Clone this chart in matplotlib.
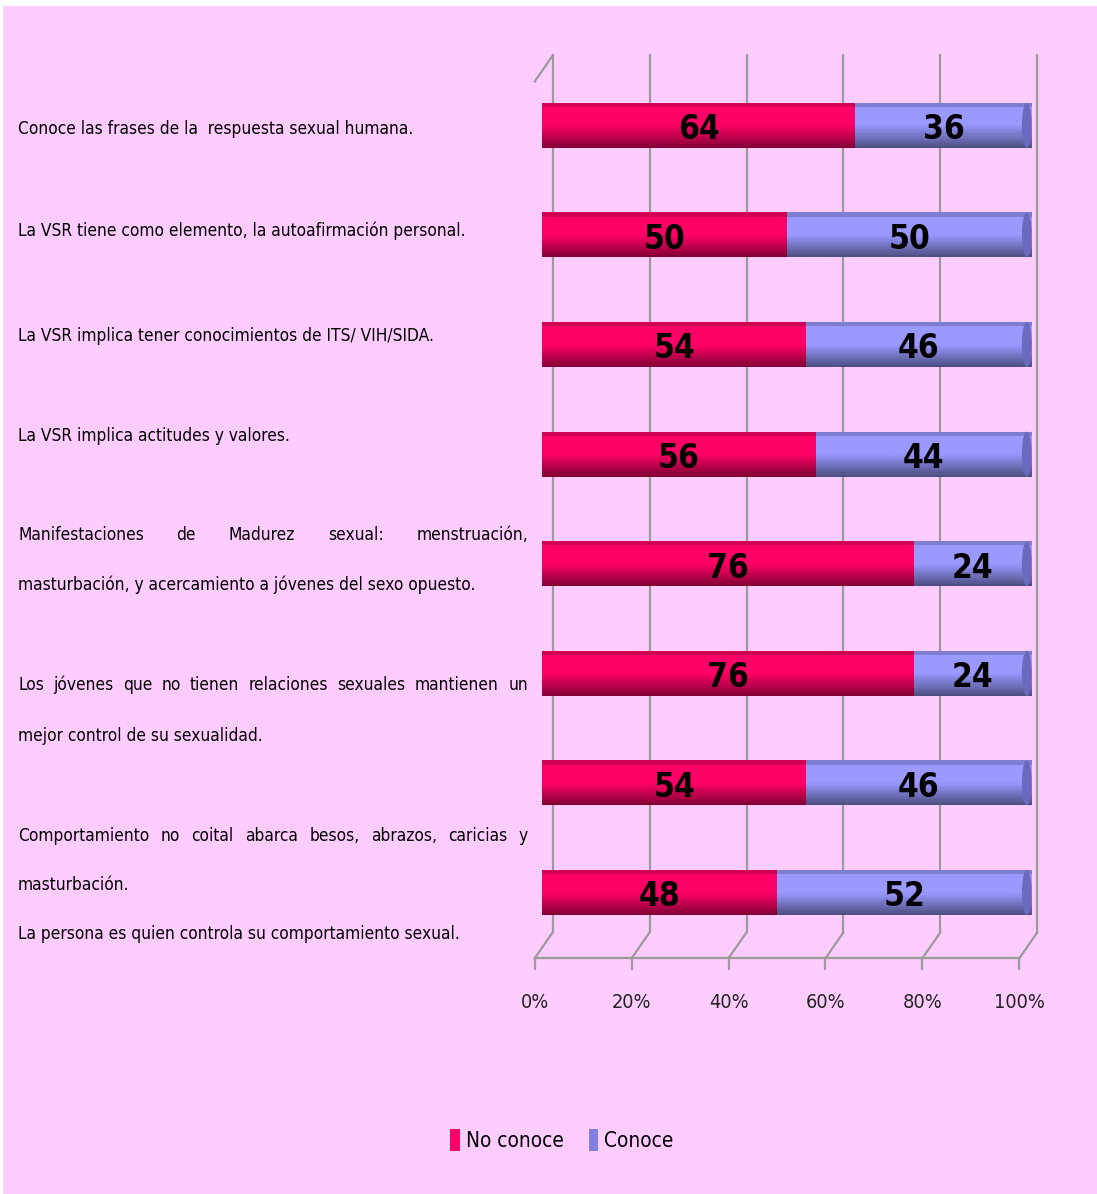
import numpy as np
import matplotlib
matplotlib.use("Agg")
import matplotlib.pyplot as plt
from matplotlib.patches import Rectangle, Ellipse, Patch
from matplotlib.transforms import Affine2D, ScaledTranslation

plt.rcParams['font.family'] = ['DejaVu Sans']
plt.rcParams['font.stretch'] = 'condensed'

# data (one row per bar, top to bottom)
no_conoce = [64, 50, 54, 56, 76, 76, 54, 48]
conoce = [36, 50, 46, 44, 24, 24, 46, 52]
ticks = [0, 20, 40, 60, 80, 100]
tick_labels = ['0%', '20%', '40%', '60%', '80%', '100%']
series_names = ['No conoce', 'Conoce']

# left hand text, as it is laid out in the original (line, y px, justified)
label_lines = [
    ("Conoce las frases de la  respuesta sexual humana.", 127, False),
    ("La VSR tiene como elemento, la autoafirmación personal.", 229, False),
    ("La VSR implica tener conocimientos de ITS/ VIH/SIDA.", 334, False),
    ("La VSR implica actitudes y valores.", 434, False),
    ("Manifestaciones de Madurez sexual: menstruación,", 533, True),
    ("masturbación, y acercamiento a jóvenes del sexo opuesto.", 583, False),
    ("Los jóvenes que no tienen relaciones sexuales mantienen un", 683, True),
    ("mejor control de su sexualidad.", 734, False),
    ("Comportamiento no coital abarca besos, abrazos, caricias y", 834, True),
    ("masturbación.", 883, False),
    ("La persona es quien controla su comportamiento sexual.", 932, False),
]

PINK = '#FF0066'
BLUE = '#9999FF'
BG = '#FFCCFF'
GRID = '#9A9A9A'

W, H = 1097, 1194
fig = plt.figure(figsize=(W / 100, H / 100), dpi=100, facecolor='white')
fig.patches.append(Rectangle((3 / W, 0), 1, 1 - 6 / H, transform=fig.transFigure,
                             facecolor=BG, edgecolor='none', zorder=-10))
renderer = fig.canvas.get_renderer()

# pick a text size so the longest plain line is as wide as in the original
probe = fig.text(0, 0, label_lines[5][0], fontsize=16)
fs = 16 * 460 / probe.get_window_extent(renderer).width
probe.remove()

# bar plane: 0..100 -> 541.7..1031.7 px, rows centred at 125 + 109.6*i
ax = fig.add_axes([541.7 / W, 1 - 947.3 / H, 490 / W, (947.3 - 70.5) / H])
ax.set_xlim(0, 100)
ax.set_ylim(7.5, -0.5)
ax.axis('off')
ax.patch.set_alpha(0)

back = Affine2D().scale(0.989, 1).translate(2.245, 0) + ax.transData + \
    ScaledTranslation(0, 0.15, fig.dpi_scale_trans)
front = Affine2D().scale(0.989, 1).translate(-1.43, 0) + ax.transData + \
    ScaledTranslation(0, -0.11, fig.dpi_scale_trans)

# back wall verticals, floor slants, front line and ticks
for v, lab in zip(ticks, tick_labels):
    ax.plot([v, v], [-0.5, 7.5], color=GRID, lw=1.6, transform=back, clip_on=False, zorder=1)
    p0 = back.transform((v, 7.5))
    p1 = front.transform((v, 7.5))
    ax.plot([p0[0], p1[0]], [p0[1], p1[1]], color=GRID, lw=1.6,
            transform=None, clip_on=False, zorder=1)
    ax.plot([v, v], [7.5, 7.6], color=GRID, lw=1.6, transform=front, clip_on=False, zorder=1)
    fig.text(p1[0] / W, 1 - 1003 / H, lab, ha='center', va='center',
             fontsize=fs * 1.15, color='#222222')
ax.plot([0, 100], [7.5, 7.5], color=GRID, lw=1.6, transform=front, clip_on=False, zorder=1)
# left wall top edge
p0 = back.transform((0, -0.5))
p1 = front.transform((0, -0.5))
ax.plot([p0[0], p1[0]], [p0[1], p1[1]], color=GRID, lw=1.6, transform=None,
        clip_on=False, zorder=1)

# cylinder-like bars
h = 0.41
N = 22
rows = np.arange(len(no_conoce))


def shade(y, left, width):
    for i in range(N):
        t = (i + 0.5) / N
        if t < 0.07:
            a = 0.18
        else:
            a = max(0.0, (t - 0.5) / 0.5) * 0.5
        if a <= 0:
            continue
        ax.barh(y - h / 2 + h * i / N + h / (2 * N), width, left=left, height=h / N,
                color='black', alpha=a, linewidth=0, zorder=3)


ax.barh(rows, no_conoce, height=h, color=PINK, linewidth=0, zorder=2)
ax.barh(rows, conoce, left=no_conoce, height=h, color=BLUE, linewidth=0, zorder=2)
for r in rows:
    shade(r, 0, no_conoce[r])
    shade(r, no_conoce[r], conoce[r])
    ax.add_patch(Ellipse((no_conoce[r] + conoce[r] - 1.0, r), 2.0, h,
                         facecolor='#6A6ABF', edgecolor='none', zorder=4))
    ax.text(no_conoce[r] / 2, r + 0.04, str(no_conoce[r]), ha='center', va='center',
            fontsize=24, fontweight='bold', color='black', zorder=5)
    ax.text(no_conoce[r] + conoce[r] / 2, r + 0.04, str(conoce[r]), ha='center', va='center',
            fontsize=24, fontweight='bold', color='black', zorder=5)

# left labels
x0, x1 = 18, 528
for line, ypx, just in label_lines:
    if not just:
        fig.text(x0 / W, 1 - ypx / H, line, ha='left', va='center_baseline',
                 fontsize=fs, color='black')
        continue
    words = line.split()
    objs = [fig.text(0, 1 - ypx / H, w_, ha='left', va='center_baseline',
                     fontsize=fs, color='black') for w_ in words]
    widths = [o.get_window_extent(renderer).width for o in objs]
    gap = (x1 - x0 - sum(widths)) / (len(words) - 1)
    x = x0
    for o, wd in zip(objs, widths):
        o.set_x(x / W)
        x += wd + gap

# legend
handles = [Patch(facecolor=PINK, edgecolor='none'), Patch(facecolor='#8080E0', edgecolor='none')]
fig.legend(handles, series_names, loc='center', bbox_to_anchor=(562 / W, 1 - 1140 / H),
           ncol=2, frameon=False, fontsize=fs * 1.2, handlelength=0.45, handleheight=1.3,
           handletextpad=0.3, columnspacing=1.2)

fig.savefig('out.png', dpi=100, facecolor=fig.get_facecolor())
